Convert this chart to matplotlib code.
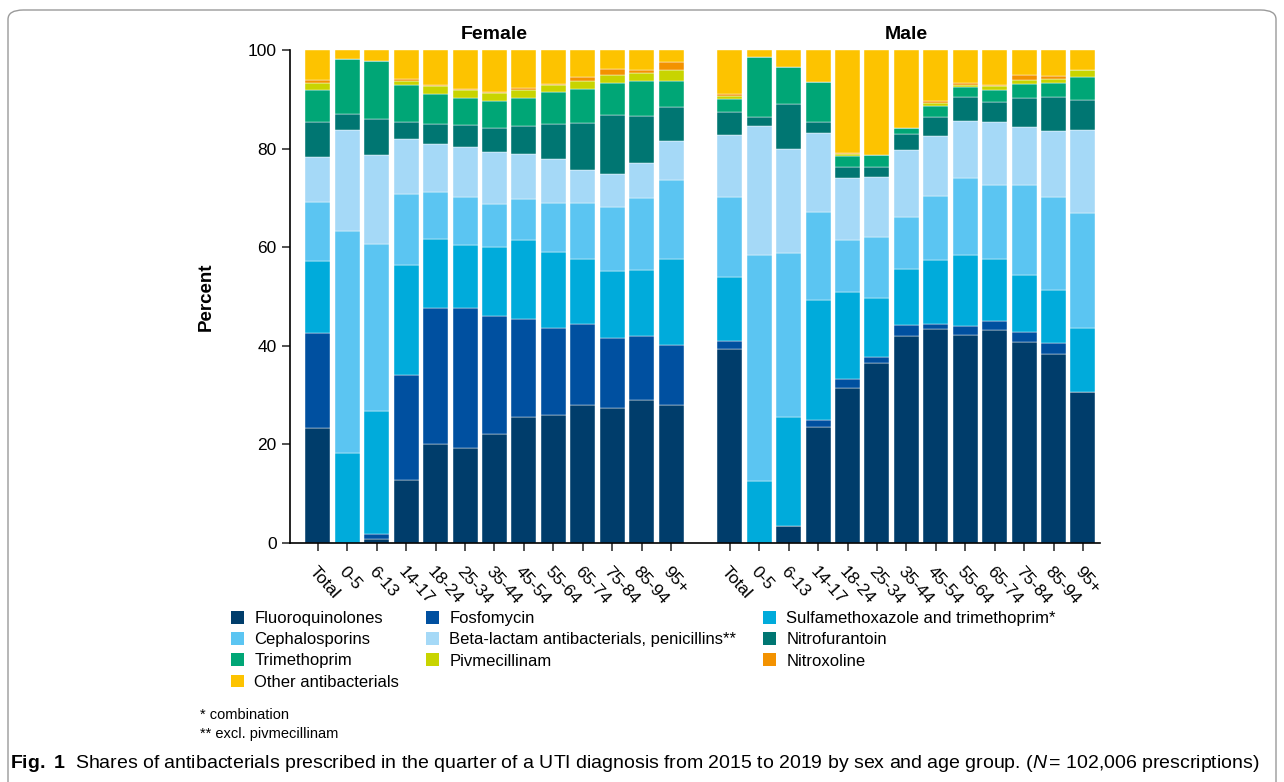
import matplotlib
matplotlib.use('Agg')
import matplotlib.pyplot as plt
from matplotlib.patches import Patch, FancyBboxPatch

plt.rcParams['font.family'] = ['Liberation Sans', 'DejaVu Sans']
plt.rcParams['mathtext.fontset'] = 'custom'
plt.rcParams['mathtext.rm'] = 'Liberation Sans'
plt.rcParams['mathtext.it'] = 'Liberation Sans:italic'
plt.rcParams['mathtext.bf'] = 'Liberation Sans:bold'

groups = ['Total', '0-5', '6-13', '14-17', '18-24', '25-34', '35-44',
          '45-54', '55-64', '65-74', '75-84', '85-94', '95+']

classes = ['Fluoroquinolones', 'Fosfomycin', 'Sulfamethoxazole and trimethoprim*',
           'Cephalosporins', 'Beta-lactam antibacterials, penicillins**',
           'Nitrofurantoin', 'Trimethoprim', 'Pivmecillinam', 'Nitroxoline',
           'Other antibacterials']
colors = ['#003d6b', '#0050a0', '#00abdb', '#5bc5f2', '#a5d9f7',
          '#007672', '#00a676', '#c8d400', '#f39200', '#fdc300']

# shares (%) per age group, one list per antibacterial class
female = {
    'Fluoroquinolones': [23.3, 0, 0.9, 12.8, 20.1, 19.3, 22.2, 25.6, 26.0, 27.9, 27.4, 29.1, 27.9],
    'Fosfomycin': [19.2, 0, 0.9, 21.3, 27.6, 28.4, 23.9, 19.8, 17.7, 16.5, 14.2, 12.9, 12.2],
    'Sulfamethoxazole and trimethoprim*': [14.7, 18.3, 25.0, 22.2, 13.9, 12.7, 13.9, 16.0, 15.4, 13.3, 13.6, 13.4, 17.6],
    'Cephalosporins': [11.9, 44.9, 33.9, 14.5, 9.5, 9.8, 8.8, 8.4, 9.8, 11.2, 13.0, 14.5, 15.9],
    'Beta-lactam antibacterials, penicillins**': [9.1, 20.6, 18.0, 11.1, 9.8, 10.2, 10.5, 9.2, 9.0, 6.8, 6.6, 7.2, 8.0],
    'Nitrofurantoin': [7.2, 3.2, 7.4, 3.4, 4.0, 4.3, 4.9, 5.5, 7.1, 9.5, 12.1, 9.6, 6.8],
    'Trimethoprim': [6.4, 11.2, 11.7, 7.7, 6.2, 5.6, 5.5, 5.8, 6.4, 6.9, 6.5, 7.0, 5.4],
    'Pivmecillinam': [1.6, 0, 0, 0.8, 1.5, 1.6, 1.5, 1.5, 1.4, 1.7, 1.6, 1.6, 2.2],
    'Nitroxoline': [0.5, 0, 0, 0.3, 0.2, 0.1, 0.3, 0.4, 0.4, 0.8, 1.2, 0.6, 1.5],
    'Other antibacterials': [6.1, 1.8, 2.2, 5.9, 7.2, 8.0, 8.5, 7.8, 6.8, 5.4, 3.8, 4.1, 2.5],
}
male = {
    'Fluoroquinolones': [39.4, 0, 3.4, 23.6, 31.4, 36.5, 41.9, 43.5, 42.1, 43.3, 40.8, 38.3, 30.6],
    'Fosfomycin': [1.6, 0, 0, 1.3, 1.9, 1.2, 2.3, 1.0, 1.9, 1.8, 1.9, 2.2, 0],
    'Sulfamethoxazole and trimethoprim*': [12.9, 12.6, 22.1, 24.4, 17.6, 12.0, 11.4, 12.9, 14.5, 12.6, 11.6, 10.8, 13.1],
    'Cephalosporins': [16.2, 45.8, 33.3, 17.9, 10.6, 12.4, 10.5, 12.9, 15.5, 15.0, 18.3, 18.9, 23.2],
    'Beta-lactam antibacterials, penicillins**': [12.7, 26.2, 21.2, 16.0, 12.5, 12.1, 13.7, 12.3, 11.6, 12.6, 11.7, 13.4, 16.9],
    'Nitrofurantoin': [4.6, 1.9, 9.0, 2.1, 2.3, 2.1, 3.1, 3.9, 4.8, 4.2, 6.0, 6.9, 6.1],
    'Trimethoprim': [2.7, 12.0, 7.5, 8.3, 2.1, 2.4, 1.3, 2.1, 2.1, 2.4, 2.9, 2.9, 4.6],
    'Pivmecillinam': [0.6, 0, 0, 0, 0.6, 0.1, 0, 0.6, 0.5, 0.7, 0.7, 0.8, 1.5],
    'Nitroxoline': [0.4, 0, 0, 0, 0.2, 0, 0, 0.4, 0.4, 0.4, 1.0, 0.5, 0],
    'Other antibacterials': [8.9, 1.5, 3.5, 6.4, 20.8, 21.2, 15.8, 10.4, 6.6, 7.0, 5.1, 5.3, 4.0],
}

W, H = 1284, 782
fig = plt.figure(figsize=(W / 100, H / 100), dpi=100)
ax = fig.add_axes([290 / W, 1 - 543 / H, 810 / W, 493 / H])

xf = list(range(len(groups)))
xm = [i + len(groups) + 1 for i in xf]

for data, xs in [(female, xf), (male, xm)]:
    bottom = [0.0] * len(groups)
    for name, col in zip(classes, colors):
        vals = data[name]
        ax.bar(xs, vals, bottom=bottom, width=0.85, color=col,
               edgecolor='white', linewidth=0.3)
        bottom = [bt + v for bt, v in zip(bottom, vals)]

ax.set_xlim(-0.95, xm[-1] + 0.58)
ax.set_ylim(0, 100)
ax.set_yticks([0, 20, 40, 60, 80, 100])
ax.set_xticks(xf + xm)
ax.set_xticklabels(groups + groups, rotation=-48, ha='left', va='top',
                   rotation_mode='anchor')
ax.tick_params(axis='both', labelsize=12.5, length=6, width=1.1, color='#222222')
ax.tick_params(axis='x', pad=9)
for s in ['top', 'right']:
    ax.spines[s].set_visible(False)
for s in ['left', 'bottom']:
    ax.spines[s].set_linewidth(1.2)
ax.set_ylabel('Percent', fontsize=13.5, fontweight='bold', labelpad=24)

ax.text(sum(xf) / len(xf), 103.2, 'Female', ha='center', va='center',
        fontsize=14, fontweight='bold')
ax.text(sum(xm) / len(xm), 103.2, 'Male', ha='center', va='center',
        fontsize=14, fontweight='bold')

order = ['Fluoroquinolones', 'Cephalosporins', 'Trimethoprim', 'Other antibacterials',
         'Fosfomycin', 'Beta-lactam antibacterials, penicillins**', 'Pivmecillinam',
         'Sulfamethoxazole and trimethoprim*', 'Nitrofurantoin', 'Nitroxoline']
leg_handles = [Patch(facecolor=colors[classes.index(n)], edgecolor='none') for n in order]
fig.legend(leg_handles, order, loc='upper left', bbox_to_anchor=(231 / W, 1 - 611 / H),
           ncol=3, frameon=False, fontsize=12, borderpad=0, borderaxespad=0,
           handlelength=0.8, handleheight=0.8, handletextpad=0.6,
           labelspacing=0.36, columnspacing=1.6)

fig.text(200 / W, 1 - 715 / H, '* combination', fontsize=10.5, va='center')
fig.text(200 / W, 1 - 734 / H, '** excl. pivmecillinam', fontsize=10.5, va='center')

fig.text(10 / W, 1 - 764 / H,
         r'$\mathbf{Fig.\ 1}$  Shares of antibacterials prescribed in the quarter of a UTI '
         r'diagnosis from 2015 to 2019 by sex and age group. ($N\!$ = 102,006 prescriptions)',
         fontsize=14, va='center')

frame = FancyBboxPatch((8 / W, -0.05), (W - 16) / W, 1 - 10 / H + 0.05,
                       boxstyle='round,pad=0,rounding_size=0.012',
                       transform=fig.transFigure, facecolor='none',
                       edgecolor='#9a9a9a', linewidth=1.0)
fig.patches.append(frame)

fig.savefig('out.png', dpi=100)
